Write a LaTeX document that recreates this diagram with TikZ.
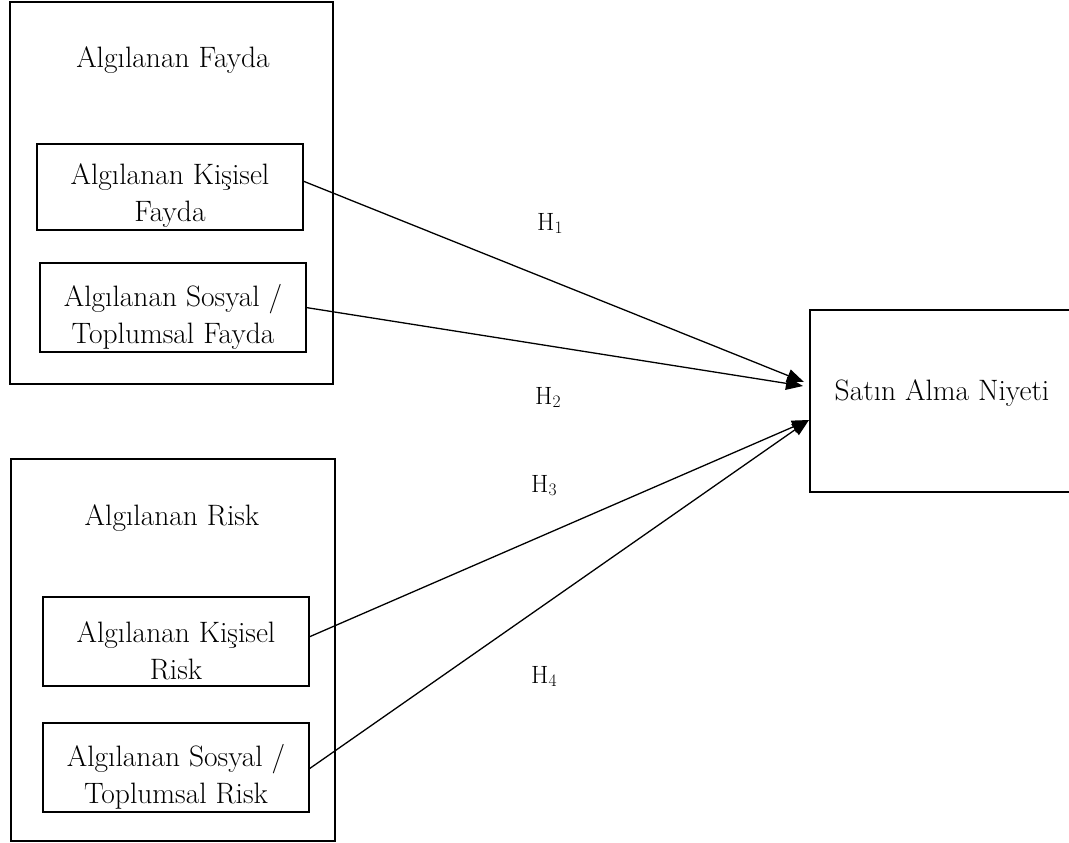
\documentclass[tikz,border=0pt]{standalone}
\usetikzlibrary{arrows.meta,calc}
\begin{document}
\begin{tikzpicture}[x=1pt,y=-1pt,
  framebox/.style={draw, line width=2.4pt, inner sep=0pt, outer sep=0pt},
  bigtext/.style={font=\fontsize{29.5}{37}\selectfont, align=center, inner sep=0pt},
  hlabel/.style={font=\fontsize{25}{30}\selectfont, inner sep=0pt},
  hyp/.style={line width=1.3pt, -{Triangle[length=17pt,width=13pt]}}]
\useasboundingbox (0,0) rectangle (1069,843);
% outer groups
\node[framebox, minimum width=323pt, minimum height=382pt] (fayda) at (171.5,193) {};
\node[framebox, minimum width=324pt, minimum height=382pt] (risk) at (173,650) {};
\node[bigtext, anchor=base] (faydat) at (173,68) {Algılanan Fayda};
\node[bigtext, anchor=base] (riskt) at (172,525) {Algılanan Risk};
% inner boxes
\node[framebox, minimum width=266pt, minimum height=86pt] (k1) at (170,187) {};
\node[framebox, minimum width=266pt, minimum height=89pt] (k2) at (173,307.5) {};
\node[framebox, minimum width=266pt, minimum height=89pt] (k3) at (176,641.5) {};
\node[framebox, minimum width=266pt, minimum height=89pt] (k4) at (176,767.5) {};
\node[bigtext] (k1t) at ($(k1.center)+(0,9)$) {Algılanan Kişisel\\Fayda};
\node[bigtext] (k2t) at ($(k2.center)+(0,9)$) {Algılanan Sosyal /\\Toplumsal Fayda};
\node[bigtext] (k3t) at ($(k3.center)+(0,9)$) {Algılanan Kişisel\\Risk};
\node[bigtext] (k4t) at ($(k4.center)+(0,9)$) {Algılanan Sosyal /\\Toplumsal Risk};
% outcome
\node[framebox, minimum width=262pt, minimum height=182pt] (sat) at (941,401) {};
\node[bigtext, anchor=base] (satt) at (942,400) {Satın Alma Niyeti};
% hypotheses
\draw[hyp] ([yshift=6pt]k1.east) -- ([shift={(-6pt,19pt)}]sat.west);
\draw[hyp] (k2.east) -- ([shift={(-7pt,15pt)}]sat.west);
\draw[hyp] ([yshift=4.5pt]k3.east) -- ([shift={(-1pt,-19pt)}]sat.west);
\draw[hyp] ([yshift=-1.5pt]k4.east) -- ([shift={(-1pt,-19pt)}]sat.west);
\node[hlabel, anchor=base west] (h1) at (537,230) {H\textsubscript{1}};
\node[hlabel, anchor=base west] (h2) at (535,404) {H\textsubscript{2}};
\node[hlabel, anchor=base west] (h3) at (531,492) {H\textsubscript{3}};
\node[hlabel, anchor=base west] (h4) at (531,683) {H\textsubscript{4}};
\end{tikzpicture}
\end{document}
